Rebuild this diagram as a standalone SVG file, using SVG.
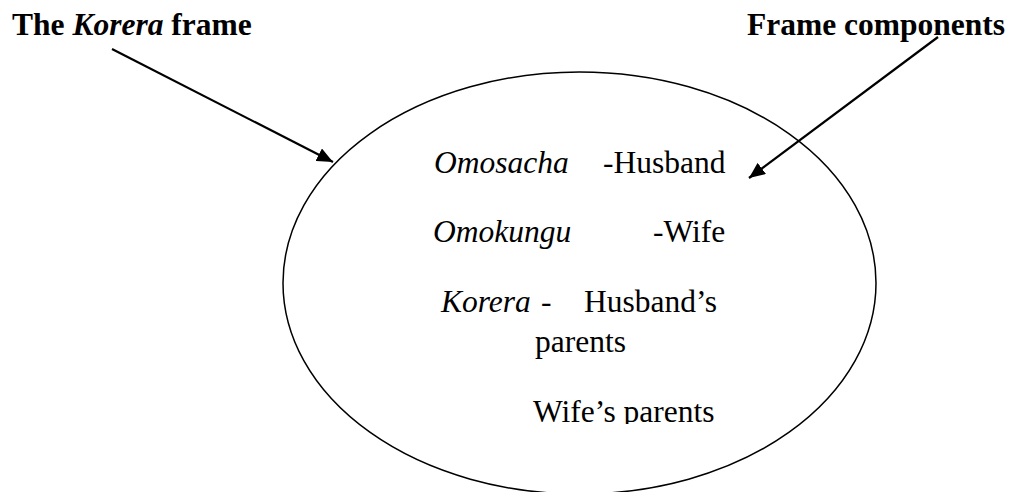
<svg xmlns="http://www.w3.org/2000/svg" width="1011" height="492" viewBox="0 0 1011 492">
<style>
.t{font-family:"Liberation Serif","Times New Roman",serif;font-size:31.5px;fill:#000}
.b{font-weight:bold}
.i{font-style:italic}
.edge{stroke:#000;stroke-width:2.2;fill:none}
</style>
<defs>
<marker id="ah" viewBox="0 0 16 14" refX="16" refY="7" markerWidth="16" markerHeight="14" markerUnits="userSpaceOnUse" orient="auto">
<path d="M0,0 L16,7 L0,14 Z" fill="#000"/>
</marker>
<clipPath id="clipw"><rect x="0" y="0" width="1011" height="424"/></clipPath>
</defs>
<rect width="1011" height="492" fill="#fff"/>
<g id="title-korera">
<text class="t b" x="12" y="35">The <tspan class="i">Korera</tspan> frame</text>
</g>
<g id="title-components">
<text class="t b" x="747" y="35">Frame components</text>
</g>
<g id="frame">
<ellipse cx="579.5" cy="283" rx="296.5" ry="211" fill="none" stroke="#000" stroke-width="1.5"/>
<text class="t i" x="434" y="173">Omosacha</text>
<text class="t" x="603" y="173">-Husband</text>
<text class="t i" x="433" y="242">Omokungu</text>
<text class="t" x="653" y="242">-Wife</text>
<text class="t i" x="441" y="312">Korera</text>
<text class="t" x="541" y="312">-</text>
<text class="t" x="584" y="312">Husband’s</text>
<text class="t" x="535" y="352">parents</text>
<text class="t" x="533" y="422" clip-path="url(#clipw)">Wife’s parents</text>
</g>
<g id="connectors">
<line class="edge" x1="112" y1="49" x2="333" y2="162" marker-end="url(#ah)"/>
<line class="edge" x1="938" y1="37" x2="749" y2="178" marker-end="url(#ah)"/>
</g>
</svg>
